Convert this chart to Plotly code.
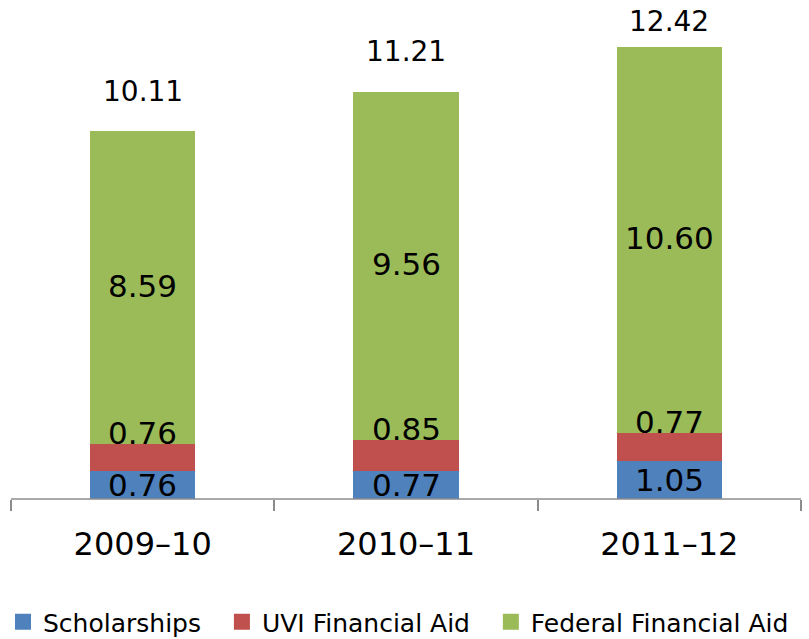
import plotly.graph_objects as go

years = ["2009–10", "2010–11", "2011–12"]
scholarships = [0.76, 0.77, 1.05]
uvi_aid = [0.76, 0.85, 0.77]
federal_aid = [8.59, 9.56, 10.60]
totals = [10.11, 11.21, 12.42]

series_names = ["Scholarships", "UVI Financial Aid", "Federal Financial Aid"]
colors = ["#4F81BD", "#C0504D", "#9BBB59"]

FONT = "DejaVu Sans"
W, H = 809, 639
Y_MAX = 13.5
PLOT_T, PLOT_B = 8, 499          # plot area top / bottom (px)
PLOT_H = PLOT_B - PLOT_T
PX = PLOT_H / Y_MAX              # pixels per value unit
AX_L, AX_R = 11, 801             # axis line extent (px)
CAT_W = (AX_R - AX_L) / len(years)
PAD = "\u00a0" * 2

fig = go.Figure()
for name, vals, col in zip(series_names, [scholarships, uvi_aid, federal_aid], colors):
    fig.add_trace(go.Bar(
        x=years, y=vals, name=name,
        marker=dict(color=col, line=dict(width=0)),
        hoverinfo="name+y", showlegend=False,
    ))
# legend entries with larger square swatches
for i, (name, col) in enumerate(zip(series_names, colors)):
    fig.add_trace(go.Scatter(
        x=[None], y=[None], mode="markers", name=name + (PAD if i < len(series_names) - 1 else ""),
        marker=dict(symbol="square", size=18, color=col, line=dict(width=0)),
        showlegend=True, hoverinfo="skip",
    ))

ann = []
for i, yr in enumerate(years):
    b, r, g = scholarships[i], uvi_aid[i], federal_aid[i]
    ann.append(dict(x=yr, y=b / 2, text=f"{b:.2f}", showarrow=False,
                    yanchor="middle", font=dict(size=31, color="black", family=FONT)))
    ann.append(dict(x=yr, y=b + r + 11 / PX, text=f"{r:.2f}", showarrow=False,
                    yanchor="middle", font=dict(size=31, color="black", family=FONT)))
    ann.append(dict(x=yr, y=b + r + g / 2 + 2 / PX, text=f"{g:.2f}", showarrow=False,
                    yanchor="middle", font=dict(size=31, color="black", family=FONT)))
    ty = min(totals[i] + 39.5 / PX, Y_MAX - 13.5 / PX)
    ann.append(dict(x=yr, y=ty, text=f"{totals[i]:.2f}", showarrow=False,
                    yanchor="middle", font=dict(size=28, color="black", family=FONT)))

x_lo = -0.5 - AX_L / CAT_W
x_hi = len(years) - 0.5 + (W - AX_R) / CAT_W

fig.update_layout(
    width=W, height=H,
    margin=dict(l=0, r=0, t=PLOT_T, b=H - PLOT_B, autoexpand=False),
    barmode="stack",
    bargap=0.6,
    plot_bgcolor="white",
    paper_bgcolor="white",
    font=dict(family=FONT, color="black"),
    showlegend=True,
    legend=dict(orientation="h", x=3 / W, xanchor="left", y=-(622 - PLOT_B) / PLOT_H,
                yanchor="middle", font=dict(size=25, family=FONT, color="black"),
                traceorder="normal", itemclick=False, itemsizing="trace",
                borderwidth=0, bgcolor="rgba(0,0,0,0)"),
    annotations=ann,
    shapes=[dict(type="line", xref="x", yref="paper", x0=-0.5, x1=len(years) - 0.5,
                 y0=0, y1=0, line=dict(color="#8C8C8C", width=1.5))],
    xaxis=dict(
        type="category", range=[x_lo, x_hi],
        showline=False,
        ticks="outside", tickson="boundaries", ticklen=11, tickcolor="#8C8C8C", tickwidth=1.5,
        tickfont=dict(size=32, family=FONT, color="black"),
        ticklabelstandoff=23,
        showgrid=False, zeroline=False, fixedrange=True,
    ),
    yaxis=dict(range=[0, Y_MAX], visible=False, showgrid=False, zeroline=False, fixedrange=True),
)

fig.write_html("out.html", config={"displayModeBar": False},
               post_script="document.body.style.margin='0';")
